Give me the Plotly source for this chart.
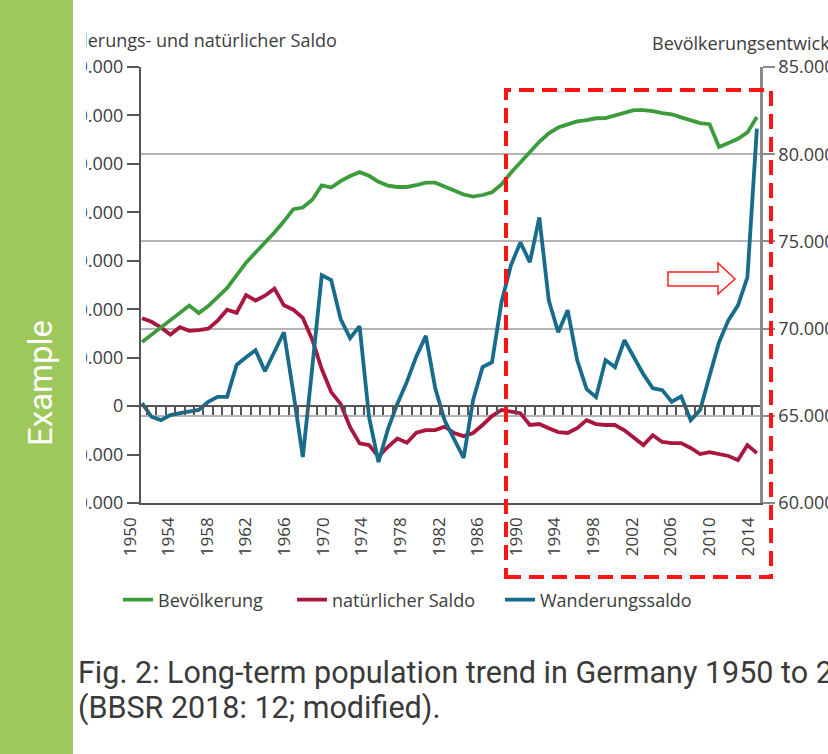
import plotly.graph_objects as go

# ---------------- data ----------------
years = list(range(1950, 2016))

# Bevölkerung (in 1.000), right axis
bevoelkerung = [
    69230, 69650, 70070, 70490, 70910, 71320, 70890, 71290, 71810, 72330,
    73050, 73780, 74360, 74910, 75510, 76150, 76850, 76940, 77390, 78210,
    78090, 78460, 78750, 78970, 78760, 78420, 78200, 78120, 78120, 78220,
    78370, 78370, 78150, 77900, 77690, 77570, 77660, 77820, 78270, 78940,
    79520, 80060, 80710, 81200, 81530, 81710, 81880, 81960, 82060, 82070,
    82210, 82380, 82530, 82530, 82470, 82350, 82290, 82110, 81920, 81780,
    81720, 80410, 80640, 80880, 81250, 82130,
]

# natürlicher Saldo (persons), left axis
natuerlicher_saldo = [
    363000, 348000, 325000, 295000, 326000, 311000, 314000, 320000, 353000, 398000,
    385000, 458000, 436000, 456000, 485000, 416000, 398000, 364000, 274000, 153000,
    58000, 9000, -87000, -154000, -161000, -209000, -168000, -134000, -151000, -110000,
    -99000, -99000, -85000, -111000, -124000, -111000, -78000, -41000, -16000, -21000,
    -29000, -78000, -74000, -91000, -107000, -111000, -91000, -58000, -74000, -78000,
    -78000, -100000, -132000, -161000, -120000, -148000, -153000, -153000, -173000, -198000,
    -190000, -196000, -206000, -223000, -161000, -194000,
]

# Wanderungssaldo (persons), left axis
wanderungssaldo = [
    12000, -44000, -58000, -37000, -29000, -24000, -16000, 18000, 38000, 38000,
    170000, 202000, 231000, 144000, 223000, 305000, 55000, -210000, 160000, 540000,
    520000, 359000, 280000, 330000, -45000, -231000, -95000, 10000, 100000, 205000,
    290000, 74000, -60000, -140000, -214000, 25000, 161000, 181000, 429000, 581000,
    676000, 594000, 779000, 437000, 305000, 396000, 190000, 70000, 37000, 190000,
    161000, 272000, 205000, 132000, 74000, 66000, 18000, 40000, -58000, -16000,
    125000, 264000, 355000, 416000, 532000, 1146000,
]

tick_years = list(range(1950, 2015, 4))
left_ticks = list(range(-400000, 1400001, 200000))
right_ticks = list(range(60000, 85001, 5000))
right_grid = [65000, 70000, 75000, 80000]

series_names = ["Bevölkerung", "natürlicher Saldo", "Wanderungssaldo"]
series_colors = ["#3c9c3c", "#a9173f", "#176b8b"]

left_title = "Wanderungs- und natürlicher Saldo"
right_title = "Bevölkerungsentwicklung"
side_label = "Example"
caption_1 = "Fig. 2: Long-term population trend in Germany 1950 to 2015"
caption_2 = "(BBSR 2018: 12; modified)."

# ---------------- geometry helpers ----------------
W, H = 828, 754
PL, PR, PT, PB = 125, 760, 67, 503   # plot area in pixels
AXIS_LEFT_PX = 141


def fx(p):
    return (p - PL) / (PR - PL)


def fy(p):
    return (PB - p) / (PB - PT)


YMIN, YMAX = -400000, 1400000
XRANGE = [1949.894, 2015.33]
FONT = "Open Sans"
TXT = "#3c3c3c"
LW = 3.8

fig = go.Figure()
fig.add_trace(go.Scatter(x=years, y=bevoelkerung, name=series_names[0], yaxis="y2",
                         mode="lines", line=dict(color=series_colors[0], width=LW),
                         legend="legend"))
fig.add_trace(go.Scatter(x=years, y=natuerlicher_saldo, name=series_names[1], yaxis="y",
                         mode="lines", line=dict(color=series_colors[1], width=LW),
                         legend="legend2"))
fig.add_trace(go.Scatter(x=years, y=wanderungssaldo, name=series_names[2], yaxis="y",
                         mode="lines", line=dict(color=series_colors[2], width=LW),
                         legend="legend3"))
# empty helper traces so that the zero-line tick axis and the year-label axis get drawn
fig.add_trace(go.Scatter(x=[], y=[], xaxis="x2", yaxis="y", showlegend=False,
                         hoverinfo="skip"))
fig.add_trace(go.Scatter(x=[], y=[], xaxis="x3", yaxis="y", showlegend=False,
                         hoverinfo="skip"))

legend_common = dict(orientation="h", xanchor="left", yanchor="middle",
                     font=dict(family=FONT, size=18, color=TXT),
                     bgcolor="rgba(0,0,0,0)", xref="paper", yref="paper")

fig.update_layout(
    width=W, height=H,
    margin=dict(l=PL, r=W - PR, t=PT, b=H - PB, autoexpand=False),
    paper_bgcolor="white", plot_bgcolor="rgba(0,0,0,0)",
    separators=",.",
    font=dict(family=FONT, size=18, color=TXT),
    xaxis=dict(domain=[fx(AXIS_LEFT_PX), 1], range=XRANGE, anchor="y",
               showline=True, linecolor="#555", linewidth=2, ticks="",
               showticklabels=False, showgrid=False, zeroline=False),
    xaxis2=dict(overlaying="x", range=XRANGE, anchor="free",
                position=(0 - YMIN) / (YMAX - YMIN), side="bottom",
                showline=True, linecolor="#555", linewidth=2,
                ticks="outside", ticklen=8, tickwidth=1.5, tickcolor="#555",
                tickmode="linear", tick0=1950.5, dtick=1, showticklabels=False,
                showgrid=False, zeroline=False),
    xaxis3=dict(domain=[0, 1], anchor="y", range=[1949.482, 2015.244],
                tickmode="array", tickvals=tick_years, ticktext=[str(t) for t in tick_years],
                tickangle=-90, ticks="", showline=False, showgrid=False, zeroline=False,
                tickfont=dict(family=FONT, size=17, color=TXT), ticklabelstandoff=10),
    yaxis=dict(domain=[0, 1], anchor="x", range=[YMIN, YMAX], tickmode="array",
               tickvals=left_ticks, tickformat=",", showline=True, linecolor="#555",
               linewidth=2, ticks="outside", ticklen=12, tickwidth=1.5, tickcolor="#555",
               showgrid=False, zeroline=False, automargin=False,
               tickfont=dict(family=FONT, size=18, color=TXT)),
    yaxis2=dict(overlaying="y", side="right", anchor="x", range=[60000, 85000],
                tickmode="array", tickvals=right_ticks, tickformat=",",
                showline=True, linecolor="#8a8a8a", linewidth=2.5,
                ticks="outside", ticklen=12, tickwidth=1.5, tickcolor="#8a8a8a",
                showgrid=False, zeroline=False, automargin=False,
                tickfont=dict(family=FONT, size=18, color=TXT),
                minor=dict(tickvals=right_grid, showgrid=True, gridcolor="#b4b4b4",
                           gridwidth=1.5, ticks="")),
    legend=dict(x=fx(118), y=fy(600), **legend_common),
    legend2=dict(x=fx(292), y=fy(600), **legend_common),
    legend3=dict(x=fx(500), y=fy(600), **legend_common),
    showlegend=True,
)

# decorations: dashed highlight box and outlined arrow
fig.add_shape(type="rect", xref="paper", yref="paper",
              x0=fx(506), x1=fx(771), y0=fy(577), y1=fy(90),
              line=dict(color="#ff1414", width=4, dash="15px,8px"),
              fillcolor="rgba(0,0,0,0)", layer="above")
arrow_pts = [(668, 272), (718, 272), (718, 263), (735, 279), (718, 294), (718, 286), (668, 286)]
arrow_path = "M " + " L ".join(f"{fx(a):.5f},{fy(b):.5f}" for a, b in arrow_pts) + " Z"
fig.add_shape(type="path", xref="paper", yref="paper", path=arrow_path,
              line=dict(color="#ff2020", width=1.5), fillcolor="white", layer="above")

ann = []
ann.append(dict(text=left_title, x=fx(339), y=fy(40), xanchor="right", yanchor="middle",
                font=dict(family=FONT, size=18, color=TXT)))
ann.append(dict(text=right_title, x=fx(650), y=fy(43), xanchor="left", yanchor="middle",
                font=dict(family=FONT, size=18, color=TXT)))
# white strip (image crop edge) and green sidebar
ann.append(dict(text="\u00a0", x=fx(79.5), y=fy(280), xanchor="center", yanchor="middle",
                width=13, height=580, bgcolor="white", borderpad=0, borderwidth=0))
ann.append(dict(text="\u00a0", x=fx(36.5), y=fy(377), xanchor="center", yanchor="middle",
                width=73, height=770, bgcolor="#9dc85c", borderpad=0, borderwidth=0))
ann.append(dict(text=side_label, x=fx(40), y=fy(383), xanchor="center", yanchor="middle",
                textangle=-90, font=dict(family="Roboto", size=33, color="white")))
ann.append(dict(text=caption_1, x=fx(76), y=fy(672), xanchor="left", yanchor="middle",
                font=dict(family="Roboto", size=30.5, color="#3a3a3a")))
ann.append(dict(text=caption_2, x=fx(76), y=fy(708), xanchor="left", yanchor="middle",
                font=dict(family="Roboto", size=30.5, color="#3a3a3a")))
for a in ann:
    a.update(xref="paper", yref="paper", showarrow=False)
fig.update_layout(annotations=ann)

fig.write_html("out.html", config={"displayModeBar": False},
               post_script="document.body.style.margin='0';document.body.style.overflow='hidden';")
